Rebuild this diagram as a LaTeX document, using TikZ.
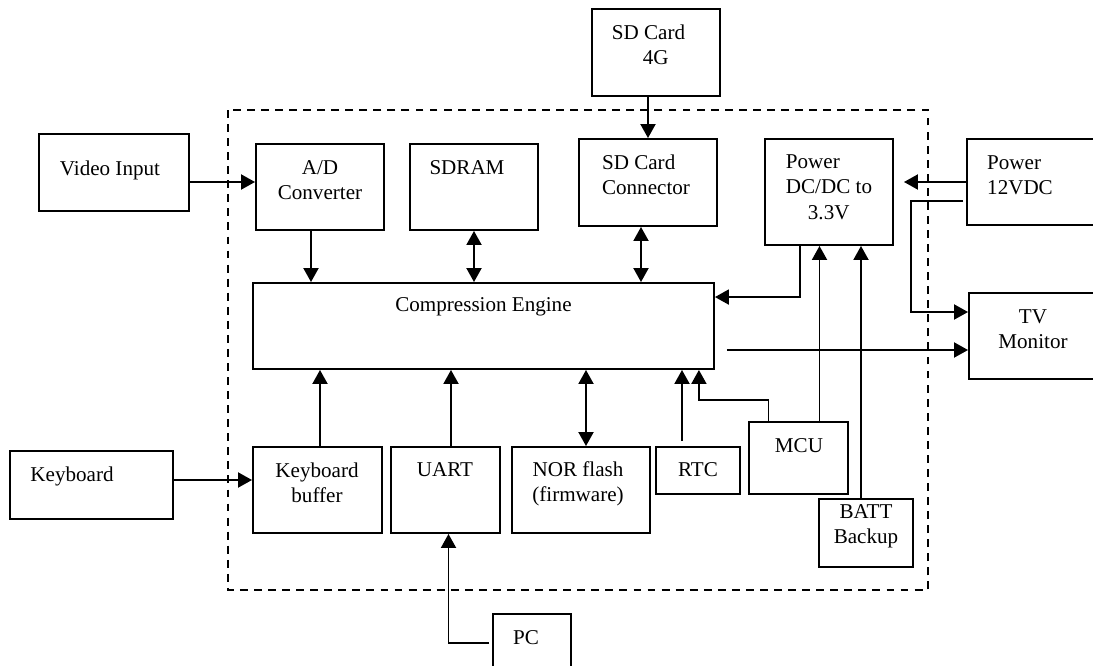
\documentclass[tikz,border=0pt]{standalone}
\usepackage{fontspec}
\setmainfont{Liberation Serif}
\usetikzlibrary{calc,arrows.meta}
\tikzset{
	blk/.style={draw, line width=1.1pt, inner sep=0pt},
	lbl/.style={inner sep=0pt, align=center, font=\fontsize{12}{14.4}\selectfont},
	arr/.style={line width=1.1pt, -{Triangle[length=0.28cm,width=0.3cm]}},
	dbl/.style={line width=1.1pt, {Triangle[length=0.28cm,width=0.3cm]}-{Triangle[length=0.28cm,width=0.3cm]}}
}

\begin{document}
\begin{tikzpicture}[x=0.02cm, y=-0.02cm]
		%%%%% START %%%%%
		\useasboundingbox (0, 0) rectangle (1093, 666);
		\clip (0, 0) rectangle (1093, 666);
		
		\draw[line width=1.1pt, dash pattern=on 4.5pt off 3.5pt] (228, 110) rectangle (928, 590);
		
		% outside blocks
		\node[blk, minimum width=3cm, minimum height=1.54cm] (vid) at (114, 172.5) {};
		\node[lbl] (vidT) at (110, 170) {Video Input};
		\node[blk, minimum width=2.56cm, minimum height=1.74cm] (sd4) at (656, 52.5) {};
		\node[lbl, align=left] (sd4T) at (648.5, 45) {SD Card\\\hspace*{0.62cm}4G};
		\node[blk, minimum width=2.66cm, minimum height=1.72cm] (p12) at (1033.5, 182) {};
		\node[lbl, align=left] (p12T) at (1020, 175) {Power\\12VDC};
		\node[blk, minimum width=2.62cm, minimum height=1.72cm] (tv) at (1034.5, 336) {};
		\node[lbl] (tvT) at (1033, 329) {TV\\Monitor};
		\node[blk, minimum width=3.26cm, minimum height=1.36cm] (kb) at (91.5, 485) {};
		\node[lbl] (kbT) at (72, 476) {Keyboard};
		\node[blk, minimum width=1.56cm, minimum height=1.52cm] (pc) at (532, 652) {};
		\node[lbl] (pcT) at (526, 638) {PC};
		
		% inside blocks
		\node[blk, minimum width=2.56cm, minimum height=1.72cm] (ad) at (320, 187) {};
		\node[lbl] (adT) at (320, 180) {A/D\\Converter};
		\node[blk, minimum width=2.56cm, minimum height=1.72cm] (sdram) at (474, 187) {};
		\node[lbl] (sdramT) at (467, 168) {SDRAM};
		\node[blk, minimum width=2.76cm, minimum height=1.74cm] (sdc) at (648, 182.5) {};
		\node[lbl, align=left] (sdcT) at (646, 175) {SD Card\\Connector};
		\node[blk, minimum width=2.56cm, minimum height=2.12cm] (dc) at (829, 192) {};
		\node[lbl, align=left] (dcT) at (829, 187) {Power\\DC/DC to\\\hspace*{0.44cm}3.3V};
		\node[blk, minimum width=9.22cm, minimum height=1.72cm] (ce) at (483.5, 326) {};
		\node[lbl] (ceT) at (483.5, 307) {Compression Engine};
		\node[blk, minimum width=2.58cm, minimum height=1.72cm] (kbb) at (317.5, 490) {};
		\node[lbl] (kbbT) at (317, 483) {Keyboard\\buffer};
		\node[blk, minimum width=2.18cm, minimum height=1.72cm] (uart) at (445.5, 490) {};
		\node[lbl] (uartT) at (445, 470) {UART};
		\node[blk, minimum width=2.76cm, minimum height=1.72cm] (nor) at (581, 490) {};
		\node[lbl] (norT) at (578, 484) {NOR flash\\(firmware)};
		\node[blk, minimum width=1.68cm, minimum height=0.94cm] (rtc) at (698, 470.5) {};
		\node[lbl] (rtcT) at (698, 470) {RTC};
		\node[blk, minimum width=1.98cm, minimum height=1.44cm] (mcu) at (798.5, 458) {};
		\node[lbl] (mcuT) at (799, 446) {MCU};
		\node[blk, minimum width=1.88cm, minimum height=1.36cm] (batt) at (866, 533) {};
		\node[lbl] (battT) at (866, 526) {BATT\\Backup};
		
		% connection points
		\coordinate (adS) at ($(ad.south)+(-9, 0)$);
		\coordinate (sdcS) at ($(sdc.south)+(-7, 0)$);
		\coordinate (dcS) at ($(dc.south)+(-29, 0)$);
		\coordinate (mcuA) at ($(mcu.north)+(21, 0)$);
		\coordinate (mcuB) at ($(mcu.north)+(-30, 0)$);
		\coordinate (battN) at ($(batt.north)+(-5, 0)$);
		\coordinate (ceM) at ($(ce.south east)+(-16, 0)$);
		\coordinate (rtcN) at ($(rtc.north)+(-16, -5)$);
		\coordinate (norN) at ($(nor.north)+(5, 0)$);
		\coordinate (uartN) at ($(uart.north)+(5.5, 0)$);
		\coordinate (kbbN) at ($(kbb.north)+(2.5, 0)$);
		
		% top row
		\draw[arr] ($(vid.east)+(0, 9.5)$) -- ($(ad.west)+(0, -5)$);
		\draw[arr] (sd4.south -| sdc.north) -- (sdc.north);
		\draw[arr] (adS) -- (adS |- ce.north);
		\draw[dbl] (sdram.south) -- (sdram.south |- ce.north);
		\draw[dbl] (sdcS) -- (sdcS |- ce.north);
		
		% power
		\draw[arr] (dcS) |- ($(ce.north east)+(0, 15)$);
		\draw[arr] (p12.west) -- ($(p12.west -| dc.east)+(10, 0)$);
		\draw[arr] ($(p12.west)+(-3, 19)$) -| ($(tv.west)+(-57, -24)$) -- ($(tv.west)+(0, -24)$);
		\draw[arr] ($(ce.east)+(12, 24)$) -- ($(tv.west)+(0, 14)$);
		\draw[arr] (mcuA) -- (mcuA |- dc.south);
		\draw[arr] (battN) -- (battN |- dc.south);
		
		% bottom row
		\draw[arr] (mcuB) |- ($(ceM)+(0, 30)$) -- (ceM);
		\draw[arr] (rtcN) -- (rtcN |- ce.south);
		\draw[dbl] (norN) -- (norN |- ce.south);
		\draw[arr] (uartN) -- (uartN |- ce.south);
		\draw[arr] (kbbN) -- (kbbN |- ce.south);
		\draw[arr] ($(kb.east)+(0, -5)$) -- ($(kbb.west)+(0, -10)$);
		\draw[arr] ($(pc.west)+(-3, -9)$) -| ($(uart.south)+(3, 0)$);
		
		%%%%% END %%%%%
	\end{tikzpicture}
\end{document}
